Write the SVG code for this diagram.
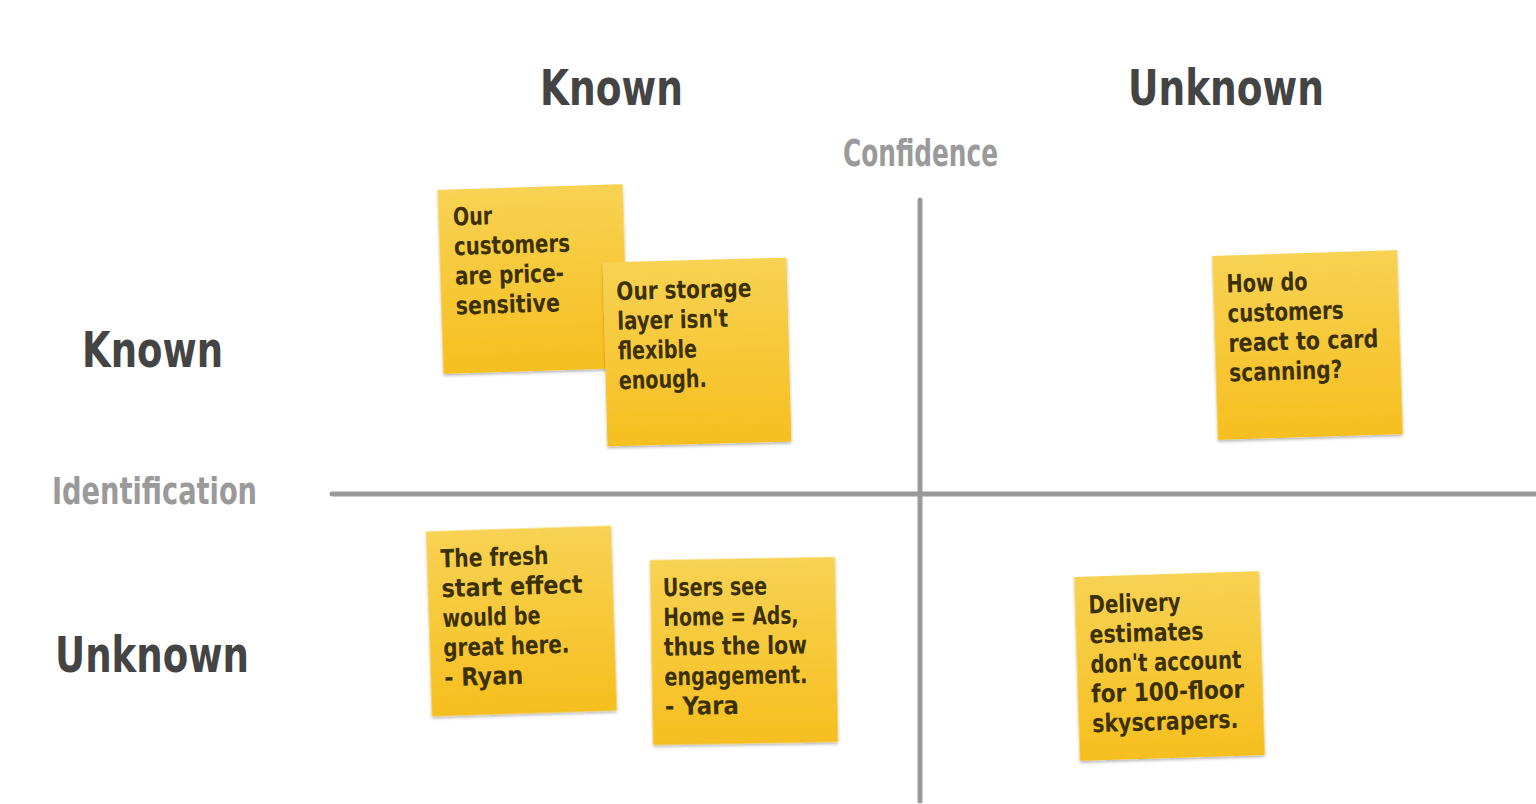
<svg xmlns="http://www.w3.org/2000/svg" width="1536" height="804" viewBox="0 0 1536 804">
<defs>
<linearGradient id="paper" x1="0" y1="0" x2="0" y2="1">
<stop offset="0" stop-color="#F8D253"/>
<stop offset="1" stop-color="#F6BF1F"/>
</linearGradient>
<filter id="shadow" x="-10%" y="-10%" width="120%" height="125%">
<feDropShadow dx="0" dy="2" stdDeviation="1.6" flood-color="#000" flood-opacity="0.28"/>
</filter>
</defs>
<style>
.hd{font-family:"DejaVu Sans Condensed","DejaVu Sans",sans-serif;font-stretch:condensed;font-weight:bold;font-size:50px;fill:#444}
.ax{font-family:"DejaVu Sans Condensed","DejaVu Sans",sans-serif;font-stretch:condensed;font-weight:bold;font-size:38px;fill:#9a9a9a}
.note rect{fill:url(#paper);filter:url(#shadow)}
.note text{font-family:"DejaVu Sans Condensed","DejaVu Sans",sans-serif;font-stretch:condensed;font-weight:bold;font-size:25px;fill:#3b3000}
.axis{stroke:#9a9a9a;stroke-width:5;stroke-linecap:round;fill:none}
</style>
<rect width="1536" height="804" fill="#fff"/>

<g id="connectors">
<line class="axis" x1="920" y1="200" x2="920" y2="801"/>
<line class="axis" x1="332" y1="494" x2="1540" y2="494"/>
</g>

<g id="labels">
<text class="hd" x="540" y="105" textLength="143" lengthAdjust="spacingAndGlyphs">Known</text>
<text class="hd" x="1128" y="105" textLength="196" lengthAdjust="spacingAndGlyphs">Unknown</text>
<text class="ax" x="843" y="166" textLength="155" lengthAdjust="spacingAndGlyphs">Confidence</text>
<text class="hd" x="82" y="367" textLength="141" lengthAdjust="spacingAndGlyphs">Known</text>
<text class="ax" x="52" y="504" textLength="205" lengthAdjust="spacingAndGlyphs">Identification</text>
<text class="hd" x="55" y="672" textLength="194" lengthAdjust="spacingAndGlyphs">Unknown</text>
</g>

<g id="note-price" class="note" transform="translate(533,279) rotate(-1.8)">
<rect x="-92.5" y="-92" width="185" height="184"/>
<text x="-78" y="-56" textLength="39" lengthAdjust="spacingAndGlyphs">Our</text>
<text x="-78" y="-26.3" textLength="116" lengthAdjust="spacingAndGlyphs">customers</text>
<text x="-78" y="3.4" textLength="109" lengthAdjust="spacingAndGlyphs">are price-</text>
<text x="-78" y="33.1" textLength="104" lengthAdjust="spacingAndGlyphs">sensitive</text>
</g>

<g id="note-storage" class="note" transform="translate(697,352) rotate(-1.5)">
<rect x="-92" y="-92" width="184" height="184"/>
<text x="-79" y="-54" textLength="135" lengthAdjust="spacingAndGlyphs">Our storage</text>
<text x="-79" y="-24.3" textLength="111" lengthAdjust="spacingAndGlyphs">layer isn't</text>
<text x="-79" y="5.4" textLength="79" lengthAdjust="spacingAndGlyphs">flexible</text>
<text x="-79" y="35.1" textLength="88" lengthAdjust="spacingAndGlyphs">enough.</text>
</g>

<g id="note-card" class="note" transform="translate(1307.5,345) rotate(-1.8)">
<rect x="-92.5" y="-92" width="185" height="184"/>
<text x="-79" y="-55" textLength="81" lengthAdjust="spacingAndGlyphs">How do</text>
<text x="-79" y="-25.3" textLength="116" lengthAdjust="spacingAndGlyphs">customers</text>
<text x="-79" y="4.4" textLength="150" lengthAdjust="spacingAndGlyphs">react to card</text>
<text x="-79" y="34.1" textLength="113" lengthAdjust="spacingAndGlyphs">scanning?</text>
</g>

<g id="note-delivery" class="note" transform="translate(1169.5,666) rotate(-1.8)">
<rect x="-92.5" y="-92" width="185" height="184"/>
<text x="-79" y="-55" textLength="92" lengthAdjust="spacingAndGlyphs">Delivery</text>
<text x="-79" y="-25.3" textLength="114" lengthAdjust="spacingAndGlyphs">estimates</text>
<text x="-79" y="4.4" textLength="151" lengthAdjust="spacingAndGlyphs">don't account</text>
<text x="-79" y="34.1" textLength="153" lengthAdjust="spacingAndGlyphs">for 100-floor</text>
<text x="-79" y="63.8" textLength="146" lengthAdjust="spacingAndGlyphs">skyscrapers.</text>
</g>

<g id="note-fresh" class="note" transform="translate(521.5,621) rotate(-1.8)">
<rect x="-92.5" y="-92.5" width="185" height="185"/>
<text x="-79" y="-56" textLength="108" lengthAdjust="spacingAndGlyphs">The fresh</text>
<text x="-79" y="-26.3" textLength="141" lengthAdjust="spacingAndGlyphs">start effect</text>
<text x="-79" y="3.4" textLength="98" lengthAdjust="spacingAndGlyphs">would be</text>
<text x="-79" y="33.1" textLength="126" lengthAdjust="spacingAndGlyphs">great here.</text>
<text x="-79" y="62.8" textLength="79" lengthAdjust="spacingAndGlyphs">- Ryan</text>
</g>

<g id="note-yara" class="note" transform="translate(744,651) rotate(-0.95)">
<rect x="-92.5" y="-92.5" width="185" height="185"/>
<text x="-80" y="-56" textLength="104" lengthAdjust="spacingAndGlyphs">Users see</text>
<text x="-80" y="-26.3" textLength="135" lengthAdjust="spacingAndGlyphs">Home = Ads,</text>
<text x="-80" y="3.4" textLength="143" lengthAdjust="spacingAndGlyphs">thus the low</text>
<text x="-80" y="33.1" textLength="143" lengthAdjust="spacingAndGlyphs">engagement.</text>
<text x="-80" y="62.8" textLength="74" lengthAdjust="spacingAndGlyphs">- Yara</text>
</g>
</svg>
